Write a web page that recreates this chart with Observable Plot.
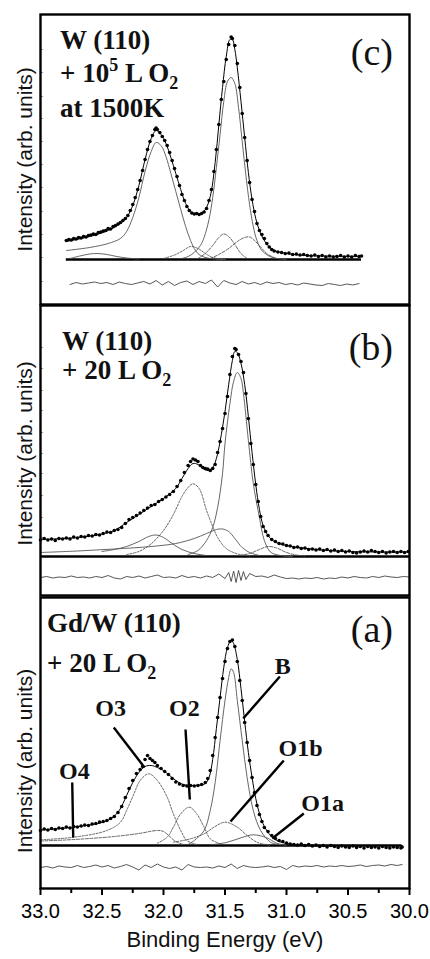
<!DOCTYPE html>
<html><head><meta charset="utf-8">
<script src="https://cdn.jsdelivr.net/npm/d3@7"></script>
<script src="https://cdn.jsdelivr.net/npm/@observablehq/plot@0.6"></script>
<style>
html,body{margin:0;padding:0;background:#fff;}
#chart{position:relative;width:430px;height:959px;overflow:hidden;background:#fff;}
#chart svg{position:absolute;left:0;}
</style></head>
<body><div id="chart"></div>
<script>
// ---------- x axis ----------
const majorTicks = [33.0, 32.5, 32.0, 31.5, 31.0, 30.5, 30.0];
const minorTicks = [32.75, 32.25, 31.75, 31.25, 30.75, 30.25];
const xLabel = "Binding Energy (eV)";
const yLabel = "Intensity (arb. units)";

// ---------- panel (c): W(110) + 10^5 L O2 at 1500K ----------
const cData = [[32.79,19],[32.77,20],[32.75,19.5],[32.73,21],[32.71,20.5],[32.69,22],[32.67,21.5],[32.65,23],[32.63,22.5],[32.61,24],[32.59,24.5],[32.57,25.5],[32.55,25],[32.53,27],[32.51,27.5],[32.49,28.5],[32.47,29],[32.45,31],[32.43,30.5],[32.41,33],[32.39,34],[32.37,35.5],[32.35,37],[32.33,39],[32.31,41],[32.29,44],[32.27,49],[32.25,55],[32.23,62],[32.21,70],[32.19,79],[32.17,89],[32.15,100],[32.13,110],[32.11,118],[32.09,124],[32.07,130],[32.06,131.5],[32.05,130],[32.03,127],[32.01,123],[31.99,119],[31.97,114],[31.95,107],[31.93,99],[31.91,91],[31.89,83],[31.87,74],[31.85,65],[31.83,59],[31.81,53],[31.79,49],[31.77,46.5],[31.75,45.5],[31.73,46],[31.71,45],[31.69,46],[31.67,47.5],[31.65,51],[31.63,59],[31.61,70],[31.59,88],[31.57,110],[31.55,135],[31.53,160],[31.51,178],[31.49,200],[31.47,215],[31.45,222.5],[31.44,221],[31.42,214],[31.40,196],[31.38,172],[31.36,146],[31.34,122],[31.32,99],[31.30,77],[31.28,60],[31.26,48],[31.24,36],[31.22,29],[31.20,25],[31.18,21],[31.16,16],[31.14,12.5],[31.12,10],[31.10,8.5],[31.07,7.5],[31.04,7],[31.01,6],[30.98,6.5],[30.95,5],[30.92,5.5],[30.89,4.5],[30.86,5],[30.83,4],[30.80,3.5],[30.77,4.5],[30.74,3],[30.71,4],[30.68,2.5],[30.65,3.5],[30.62,2.5],[30.59,3],[30.56,4],[30.53,2.5],[30.50,3.5],[30.47,2.5],[30.44,4],[30.41,3],[30.39,3.5]];
const cFit = [[32.79,18],[32.6,23],[32.45,29],[32.35,36],[32.3,42],[32.25,54],[32.2,74],[32.15,100],[32.1,121],[32.06,129],[32.02,125],[31.98,116],[31.94,102],[31.9,86],[31.86,70],[31.82,56],[31.78,48],[31.74,45],[31.7,46],[31.66,50],[31.62,63],[31.58,97],[31.55,135],[31.52,172],[31.49,203],[31.46,220],[31.44,220],[31.42,210],[31.4,192],[31.37,158],[31.34,122],[31.31,87],[31.28,60],[31.25,41],[31.22,29],[31.19,21],[31.15,14],[31.1,9],[31.0,6],[30.9,4.5],[30.7,3.5],[30.39,3]];
const cComp1 = [[32.79,9],[32.6,12],[32.45,16],[32.35,21],[32.3,28],[32.25,42],[32.2,62],[32.15,88],[32.1,108],[32.06,117],[32.02,114],[31.98,103],[31.94,86],[31.9,68],[31.86,50],[31.82,33],[31.78,19],[31.74,9],[31.7,4],[31.62,1],[31.5,0]];
const cComp2 = [[31.85,1],[31.8,3],[31.75,7],[31.7,14],[31.67,22],[31.63,40],[31.6,62],[31.57,92],[31.54,125],[31.51,158],[31.48,178],[31.45,182],[31.42,176],[31.39,152],[31.36,118],[31.33,84],[31.3,55],[31.27,33],[31.24,19],[31.2,9],[31.15,4],[31.1,1.5],[31.0,0]];
const cComp3 = [[32.0,1],[31.9,5],[31.84,9],[31.78,13],[31.72,11],[31.66,6],[31.6,2],[31.5,0]];
const cComp4 = [[31.72,1],[31.66,6],[31.6,14],[31.55,22],[31.51,25.5],[31.47,23],[31.42,15],[31.37,6],[31.32,1]];
const cComp5 = [[31.62,1],[31.55,5],[31.47,11],[31.4,18],[31.34,22],[31.3,22.5],[31.26,19],[31.2,11],[31.15,5],[31.08,1]];
const cComp6 = [[32.76,1],[32.68,3.5],[32.6,5.5],[32.54,6],[32.46,5],[32.38,3],[32.3,1.5],[32.2,0.5]];
const cResid = [[32.76,-25],[32.71,-23],[32.66,-24.5],[32.61,-23.5],[32.56,-22.5],[32.51,-24],[32.46,-23],[32.41,-25],[32.36,-22.5],[32.31,-24],[32.26,-25],[32.21,-23.5],[32.16,-22],[32.11,-24.5],[32.06,-21],[32.01,-25.5],[31.96,-22],[31.91,-26],[31.86,-23],[31.81,-21.5],[31.76,-25],[31.71,-22],[31.66,-24],[31.61,-20.5],[31.56,-27.5],[31.51,-21],[31.46,-23.5],[31.41,-25],[31.36,-22],[31.31,-24.5],[31.26,-23],[31.21,-25],[31.16,-22.5],[31.11,-24],[31.06,-23],[31.01,-25],[30.96,-24],[30.91,-25.5],[30.86,-23.5],[30.81,-24.5],[30.76,-25.5],[30.71,-26],[30.66,-24],[30.61,-25],[30.56,-26],[30.51,-24.5],[30.46,-25.5],[30.41,-24]];
const cRange = [32.79, 30.39];
const cYTicks = [-22, 2, 25, 48, 72, 95, 118, 141, 163, 187, 210];

// ---------- panel (b): W(110) + 20 L O2 ----------
const bData = [[33.0,16.5],[32.97,18],[32.94,16.5],[32.91,17.5],[32.88,16],[32.85,18],[32.82,17.5],[32.79,18.5],[32.76,17.5],[32.73,19.5],[32.70,18.5],[32.67,20],[32.64,19.5],[32.61,21],[32.58,20.5],[32.55,22],[32.52,21.5],[32.49,23],[32.46,24.5],[32.43,24],[32.40,26],[32.37,27],[32.34,29],[32.31,33],[32.28,37],[32.25,39],[32.22,41],[32.19,43.5],[32.16,46],[32.13,48.5],[32.10,51],[32.07,52],[32.04,55],[32.01,57],[31.98,59.5],[31.95,62],[31.92,65],[31.89,70],[31.86,76],[31.83,84],[31.80,91],[31.78,95],[31.76,97.5],[31.74,96.5],[31.72,95],[31.70,91],[31.68,89],[31.66,88],[31.64,87.5],[31.62,86],[31.60,88],[31.58,92],[31.56,104],[31.54,115],[31.52,128],[31.50,143],[31.48,160],[31.46,182],[31.44,200],[31.42,208],[31.41,207],[31.39,202],[31.37,195],[31.35,184],[31.33,163],[31.31,138],[31.29,113],[31.27,92],[31.25,72],[31.23,55],[31.21,40],[31.19,30],[31.17,25],[31.15,21],[31.12,17],[31.09,15],[31.06,13],[31.03,12.5],[31.00,11],[30.97,10.5],[30.94,9],[30.91,9.5],[30.88,8],[30.85,8.5],[30.82,7],[30.79,7.5],[30.76,6.5],[30.73,7.5],[30.70,6],[30.67,7],[30.64,5.5],[30.61,6.5],[30.58,5],[30.55,6],[30.52,4.5],[30.49,5.5],[30.46,4],[30.43,3.5],[30.40,4.5],[30.37,5.5],[30.34,4.5],[30.31,6],[30.28,5],[30.25,4],[30.22,5],[30.19,3.5],[30.16,4.5],[30.13,5],[30.10,4],[30.07,5],[30.04,4],[30.01,5]];
const bFit = [[33.0,17],[32.7,19],[32.5,22.5],[32.4,26],[32.3,34],[32.2,42],[32.1,50],[32.0,58],[31.9,68],[31.85,78],[31.8,88],[31.76,93],[31.72,92],[31.68,88],[31.64,86],[31.6,89],[31.57,98],[31.54,115],[31.5,145],[31.47,172],[31.44,196],[31.42,205],[31.4,204],[31.37,193],[31.34,172],[31.31,140],[31.28,104],[31.25,72],[31.22,47],[31.19,31],[31.15,21],[31.1,15],[31.0,11],[30.8,7.5],[30.5,5],[30.0,4.5]];
const bComp1 = [[31.8,2],[31.72,6],[31.65,16],[31.6,29],[31.56,49],[31.52,83],[31.5,113],[31.46,153],[31.43,175],[31.4,184],[31.37,178],[31.35,163],[31.31,116],[31.27,73],[31.22,39],[31.18,16],[31.13,4.5],[31.05,1],[30.95,0]];
const bComp2 = [[32.3,2],[32.2,5],[32.1,12.7],[32.0,26],[31.92,42],[31.85,60],[31.8,69],[31.76,72.7],[31.71,68],[31.65,46],[31.6,30],[31.56,19],[31.5,9],[31.45,5],[31.38,2],[31.3,0.5]];
const bComp3 = [[32.5,5],[32.4,7],[32.3,10],[32.2,15],[32.12,20],[32.06,21.5],[32.0,19],[31.93,13],[31.85,7],[31.75,3],[31.65,1]];
const bComp4 = [[33.0,4],[32.7,5.5],[32.4,7.5],[32.1,10],[31.9,13],[31.75,18],[31.65,23],[31.57,27],[31.52,27.5],[31.47,25],[31.42,18],[31.36,9],[31.3,4],[31.22,1]];
const bComp5 = [[31.38,1],[31.3,3],[31.22,7],[31.15,10],[31.08,8.5],[31.0,4],[30.92,1.5],[30.85,0.5]];
const bResid = [[33.00,-21],[32.95,-20],[32.90,-21.5],[32.85,-20.5],[32.80,-21],[32.75,-19.5],[32.70,-21],[32.65,-20.5],[32.60,-21.5],[32.55,-20],[32.50,-21],[32.45,-19],[32.40,-21.5],[32.35,-22.5],[32.30,-20],[32.25,-21],[32.20,-19.5],[32.15,-21.5],[32.10,-20],[32.05,-18.5],[32.00,-21],[31.95,-20.5],[31.90,-21.5],[31.85,-19],[31.80,-21],[31.75,-20],[31.70,-21.5],[31.65,-19.5],[31.60,-21],[31.55,-17.5],[31.50,-22],[31.47,-16],[31.45,-25],[31.43,-14.5],[31.41,-26],[31.39,-14],[31.37,-24],[31.35,-15],[31.33,-23],[31.30,-17],[31.25,-20],[31.20,-19.5],[31.15,-21],[31.10,-18.5],[31.05,-20.5],[31.00,-22],[30.95,-21.5],[30.90,-22.5],[30.85,-21.5],[30.80,-22],[30.75,-21],[30.70,-22.5],[30.65,-21.5],[30.60,-22],[30.55,-20.5],[30.50,-21.5],[30.45,-20],[30.40,-21],[30.35,-21.5],[30.30,-20],[30.25,-21],[30.20,-19.5],[30.15,-20.5],[30.10,-21],[30.05,-20],[30.00,-20.5]];
const bRange = [33.0, 30.0];
const bYTicks = [19, 39, 61, 83, 103, 124, 146, 166, 188, 209];

// ---------- panel (a): Gd/W(110) + 20 L O2 ----------
const aData = [[33.00,15],[32.97,16.5],[32.94,15.5],[32.91,17],[32.88,16],[32.85,17.5],[32.82,17],[32.79,18.5],[32.76,17.5],[32.73,19],[32.70,18.5],[32.67,19.5],[32.64,20.5],[32.61,20],[32.58,21.5],[32.55,22],[32.52,23.5],[32.49,24],[32.46,25],[32.43,27],[32.40,29],[32.37,33],[32.34,39],[32.31,48],[32.28,57],[32.25,65],[32.22,72],[32.19,76],[32.17,79],[32.15,86],[32.13,90],[32.11,87],[32.09,85],[32.07,83],[32.05,80],[32.02,77],[31.99,74],[31.96,71],[31.93,67],[31.90,63.5],[31.87,61.5],[31.84,60],[31.81,59.5],[31.78,60],[31.75,59.5],[31.72,60],[31.69,61],[31.66,63],[31.64,67],[31.62,75],[31.60,90],[31.58,108],[31.56,128],[31.54,148],[31.52,167],[31.50,184],[31.48,197],[31.46,204],[31.44,205.5],[31.42,199],[31.40,184],[31.38,165],[31.36,145],[31.34,123],[31.32,103],[31.30,85],[31.28,68],[31.26,53],[31.24,40],[31.22,31],[31.20,24],[31.18,18],[31.15,14],[31.12,10],[31.09,7],[31.06,5],[31.03,4],[31.00,2.5],[30.97,1.5],[30.94,1],[30.91,0.5],[30.88,1.5],[30.85,0],[30.82,1],[30.79,-0.5],[30.76,0.5],[30.73,-1],[30.70,0],[30.67,-1.5],[30.64,0],[30.61,-1],[30.58,-2],[30.55,-0.5],[30.52,-1.5],[30.49,-2],[30.46,-0.5],[30.43,-2],[30.40,-1],[30.37,-2.5],[30.34,-1],[30.31,-2],[30.28,-1.5],[30.25,-2.5],[30.22,-1],[30.19,-2],[30.16,-2.5],[30.13,-1.5],[30.10,-2],[30.07,-2.5],[30.06,-1.5]];
const aFit = [[33.0,15.5],[32.8,17.5],[32.6,20.5],[32.5,23],[32.42,27.5],[32.36,35],[32.3,50],[32.25,63],[32.2,73],[32.15,79],[32.1,80],[32.05,78],[32.0,75],[31.95,70],[31.9,65],[31.85,61.5],[31.8,60],[31.75,60],[31.7,60.5],[31.66,62],[31.63,68],[31.6,86],[31.57,117],[31.54,148],[31.51,178],[31.48,198],[31.45,205],[31.43,202],[31.4,186],[31.37,157],[31.34,124],[31.31,93],[31.28,68],[31.25,47],[31.22,32],[31.18,19],[31.13,10],[31.08,5],[31.0,2],[30.9,0.5],[30.5,0],[30.06,0]];
const aB   = [[31.8,1],[31.75,5],[31.67,15],[31.62,35],[31.58,63],[31.54,105],[31.5,145],[31.47,168],[31.45,176.7],[31.43,173],[31.4,145],[31.36,105],[31.32,68],[31.27,35],[31.21,15],[31.13,3.3],[31.05,0.5]];
const aO3  = [[33.0,5.7],[32.73,8.3],[32.46,15],[32.35,23.3],[32.3,35],[32.24,51.7],[32.19,65],[32.12,71.7],[32.05,65],[31.97,48.3],[31.92,31.7],[31.86,15],[31.81,5],[31.73,1]];
const aO2  = [[32.05,2.3],[31.97,8.3],[31.92,18.3],[31.86,31.7],[31.79,38.3],[31.73,31.7],[31.67,18.3],[31.62,6.7],[31.54,1.7]];
const aO1b = [[31.92,3.3],[31.78,6.7],[31.67,11.7],[31.59,18.3],[31.5,23.3],[31.4,18.3],[31.32,10],[31.24,3.3],[31.13,0]];
const aO1a = [[31.59,1],[31.48,3.3],[31.37,7.7],[31.27,10.7],[31.16,7.7],[31.08,2.3],[31.0,0]];
const aO4  = [[33.0,4.5],[32.8,5.5],[32.6,7],[32.4,9],[32.2,12],[32.05,15],[32.0,14],[31.95,9],[31.9,4],[31.84,1]];
const aResid = [[33.00,-22],[32.95,-21],[32.90,-22.5],[32.85,-20.5],[32.80,-21.5],[32.75,-22],[32.70,-20],[32.65,-22],[32.60,-21],[32.55,-19.5],[32.50,-21.5],[32.45,-20],[32.40,-22.5],[32.35,-21],[32.30,-19],[32.25,-21.5],[32.20,-24.5],[32.15,-19.5],[32.10,-22],[32.05,-18.5],[32.00,-21.5],[31.95,-23],[31.90,-21.5],[31.85,-24.5],[31.80,-19],[31.75,-21.5],[31.70,-22],[31.65,-21.5],[31.60,-22.5],[31.55,-20.5],[31.50,-22],[31.45,-18.5],[31.40,-23],[31.35,-20],[31.30,-21.5],[31.25,-22],[31.20,-21.5],[31.15,-20.5],[31.10,-22],[31.05,-21],[31.00,-24],[30.95,-20],[30.90,-21.5],[30.85,-20.5],[30.80,-21],[30.75,-20],[30.70,-21.5],[30.65,-20.5],[30.60,-21],[30.55,-20],[30.50,-21],[30.45,-20.5],[30.40,-19.5],[30.35,-21],[30.30,-20],[30.25,-19.5],[30.20,-20.5],[30.15,-19],[30.10,-20],[30.06,-19]];
const aRange = [33.0, 30.06];
// peak labels of panel (a): name, label position (eV, intensity), leader line start and end
const aLabels = ["B", "O3", "O2", "O1b", "O1a", "O4"];
const aLabelPos = [[31.03,172],[32.43,130],[31.83,130],[30.886,90],[30.707,35],[32.724,67]];
const aLeaderFrom = [[31.054,169],[32.404,118],[31.821,116],[31.022,85],[30.859,32],[32.742,63]];
const aLeaderTo   = [[31.352,127],[32.154,78],[31.786,46],[31.455,24],[31.116,7],[32.734,8]];

// ---------- panel titles ----------
const titleC = [[["W (110)"]], [["+ 10"],["5","sup"],[" L O"],["2","sub"]], [["at 1500K"]]];
const titleB = [[["W (110)"]], [["+ 20 L O"],["2","sub"]]];
const titleA = [[["Gd/W (110)"]], [["+ 20 L O"],["2","sub"]]];
const tagC = "(c)", tagB = "(b)", tagA = "(a)";

// ---------- drawing ----------
const chart = document.getElementById("chart");
const SANS = "Liberation Sans, Arial, sans-serif";
const SERIF = "Liberation Serif, Times New Roman, serif";
const xy = {x: d => d[0], y: d => d[1]};

function comp(arr, dash) {
  return Plot.line(arr, {...xy, curve: "catmull-rom", stroke: "#555", strokeWidth: 0.9, strokeDasharray: dash || null});
}

function panel(o) {
  const marks = [
    Plot.ruleY(o.yTicks || [], {x1: 33, x2: 32.975, stroke: "#888", strokeWidth: 0.8}),
    Plot.ruleY([0], {x1: o.range[0], x2: o.range[1], stroke: "#000", strokeWidth: 2.6}),
    ...o.comps,
    Plot.line(o.fit, {...xy, curve: "catmull-rom", stroke: "#000", strokeWidth: 1}),
    Plot.dot(o.data, {...xy, r: 1.8, fill: "#000", stroke: null}),
    Plot.line(o.resid, {...xy, stroke: "#444", strokeWidth: 0.9}),
    Plot.text([yLabel], {frameAnchor: "left", textAnchor: "middle", text: d => d, rotate: -90, dx: -15, dy: o.yLabelDy, fontSize: 21, fontFamily: SANS, fill: "#111"}),
    Plot.frame({stroke: "#000", strokeWidth: 2.4}),
    ...(o.extra || [])
  ];
  const svg = Plot.plot({
    width: 430, height: o.height,
    marginLeft: 40, marginRight: 21, marginTop: 2, marginBottom: o.marginBottom,
    x: {domain: [33, 30], axis: null},
    y: {domain: o.ydom, axis: null},
    style: {background: "transparent", overflow: "visible"},
    marks
  });
  svg.style.top = o.top + "px";
  chart.appendChild(svg);
  const s = d3.select(svg);
  o.title.forEach((line, i) => {
    const t = s.append("text").attr("x", o.tx).attr("y", o.tys[i]).attr("text-anchor", "start")
      .attr("font-family", SERIF).attr("font-weight", "bold").attr("font-size", 27).attr("fill", "#111");
    let shift = 0;
    line.forEach(seg => {
      const ts = t.append("tspan").text(seg[0]);
      let target = 0;
      if (seg[1] === "sup") { target = -11; ts.attr("font-size", 18); }
      if (seg[1] === "sub") { target = 7; ts.attr("font-size", 18); }
      if (target - shift !== 0) ts.attr("dy", target - shift);
      shift = target;
    });
  });
  s.append("text").attr("x", 393).attr("y", o.tagY).attr("text-anchor", "end")
    .attr("font-family", SERIF).attr("font-size", 38).attr("fill", "#111").text(o.tag);
  return svg;
}

// panel (c): frame 14..304, baseline at y=259
panel({
  top: 12, height: 294, marginBottom: 2, ydom: [-45, 245],
  data: cData, fit: cFit, resid: cResid, range: cRange, yTicks: cYTicks,
  comps: [comp(cComp1), comp(cComp2), comp(cComp3, "2,1.5"), comp(cComp4, "3,1.5"), comp(cComp5, "3,1.5"), comp(cComp6)],
  yLabelDy: 0,
  title: titleC, tx: 60, tys: [37, 70, 105], tag: tagC, tagY: 53
});

// panel (b): frame 305..595, baseline at y=556
panel({
  top: 303, height: 294, marginBottom: 2, ydom: [-39, 251],
  data: bData, fit: bFit, resid: bResid, range: bRange, yTicks: bYTicks,
  comps: [comp(bComp1), comp(bComp2, "2,1.5"), comp(bComp3), comp(bComp4), comp(bComp5, "3,1.5")],
  yLabelDy: 3,
  title: titleB, tx: 62, tys: [47, 76], tag: tagB, tagY: 57
});

// panel (a): frame 597..888, baseline at y=845
const leaders = aLabels.map((n, i) => ({n, p: aLabelPos[i], f: aLeaderFrom[i], t: aLeaderTo[i]}));
panel({
  top: 595, height: 364, marginBottom: 71, ydom: [-43, 248],
  data: aData, fit: aFit, resid: aResid, range: aRange,
  comps: [comp(aB), comp(aO3, "2,1.5"), comp(aO2, "2,1.5"), comp(aO1b, "2,1.5"), comp(aO1a), comp(aO4, "3,1.5")],
  yLabelDy: 18,
  title: titleA, tx: 47, tys: [37, 77], tag: tagA, tagY: 47,
  extra: [
    Plot.link(leaders, {x1: d => d.f[0], y1: d => d.f[1], x2: d => d.t[0], y2: d => d.t[1], stroke: "#000", strokeWidth: 2.4}),
    Plot.text(leaders, {x: d => d.p[0], y: d => d.p[1], text: d => d.n, lineAnchor: "bottom", textAnchor: "middle",
      fontFamily: SERIF, fontWeight: "bold", fontSize: 24, fill: "#111"}),
    Plot.axisX({ticks: majorTicks, tickSize: 7, tickPadding: 8, tickFormat: d3.format(".1f"), fontSize: 20, fontFamily: SANS, label: null, stroke: "#000", strokeWidth: 2}),
    Plot.axisX({ticks: minorTicks, tickSize: 5, tickFormat: () => "", label: null, stroke: "#000", strokeWidth: 2}),
    Plot.text([xLabel], {frameAnchor: "bottom", text: d => d, dy: 58, fontSize: 22, fontFamily: SANS, fill: "#111"})
  ]
});
</script></body></html>
